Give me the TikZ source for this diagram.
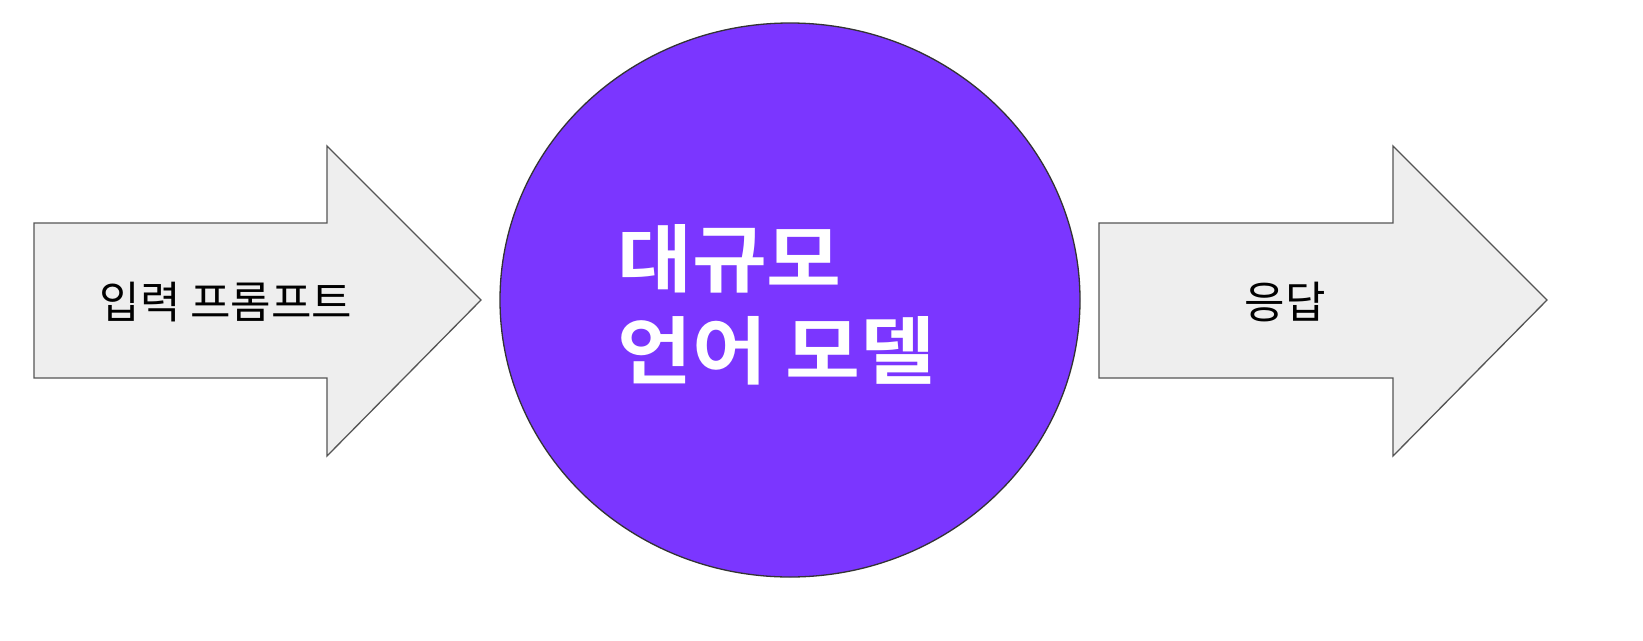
\documentclass[tikz,border=0pt]{standalone}
\usepackage{fontspec}
\usetikzlibrary{shapes.geometric}
\newfontfamily\krfont{Noto Sans CJK KR}
\newfontfamily\krbold[FakeStretch=1.1]{Noto Sans CJK KR Bold}
\definecolor{llmpurple}{HTML}{7B36FF}
\definecolor{arrowfill}{HTML}{EEEEEE}
\definecolor{arrowline}{HTML}{555555}
\tikzset{
  bigarrow/.style={fill=arrowfill, draw=arrowline, line width=1.3pt, line join=miter},
  arrowtext/.style={font=\krfont\fontsize{44}{50}\selectfont, text=black, inner sep=0pt},
  circletext/.style={font=\krbold\fontsize{74}{92}\selectfont, text=white, align=left, inner sep=0pt}
}
\begin{document}
\begin{tikzpicture}[x=1pt,y=-1pt]
\useasboundingbox (0,0) rectangle (1643,640);
\fill[white] (0,0) rectangle (1643,640);
% left arrow
\draw[bigarrow] (34,223) -- (327,223) -- (327,146) -- (481,300) -- (327,456) -- (327,378) -- (34,378) -- cycle;
% right arrow
\draw[bigarrow] (1099,223) -- (1393,223) -- (1393,146) -- (1547,300) -- (1393,456) -- (1393,378) -- (1099,378) -- cycle;
% circle
\node[ellipse, draw=black!80, line width=1.3pt, fill=llmpurple, minimum width=580pt, minimum height=554pt, inner sep=0pt] (llm) at (790,300) {};
\node[circletext, anchor=west] (llmtext) at (617,305) {대규모\\언어 모델};
\node[arrowtext] (input) at (226,302) {입력 프롬프트};
\node[arrowtext] (output) at (1285,302) {응답};
\end{tikzpicture}
\end{document}
